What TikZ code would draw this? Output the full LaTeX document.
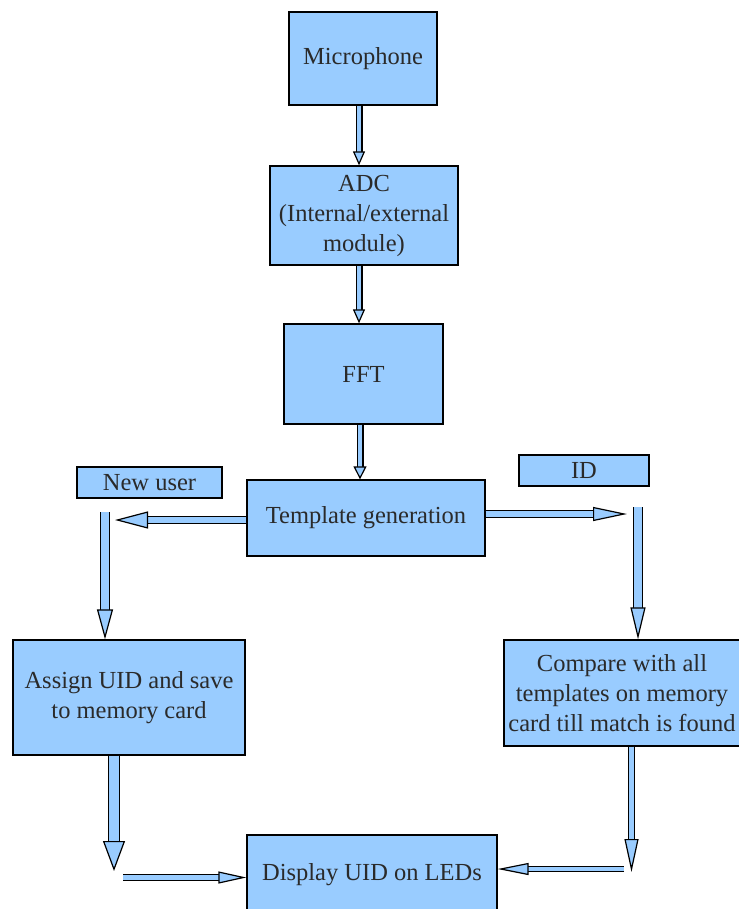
\documentclass[tikz,border=0pt]{standalone}
\usepackage{fontspec}
\setmainfont{Liberation Serif}
\usetikzlibrary{arrows.meta}
\definecolor{boxblue}{HTML}{99CCFF}
\definecolor{txt}{HTML}{2A2A2A}
\begin{document}
\begin{tikzpicture}[x=1pt,y=-1pt,
  box/.style={draw=black, line width=1.3pt, fill=boxblue, inner sep=0pt, align=center,
    font=\fontsize{24.5}{30}\selectfont, text=txt},
  barrow/.style args={#1/#2/#3}{draw=black, line width=1.2pt, double=boxblue, double distance=#1,
    -{Triangle[length=#2, width=#3, fill=boxblue, line width=1.2pt]}}]
\useasboundingbox (0,0) rectangle (738,909);
\node[box, minimum width=148pt, minimum height=93pt] (mic) at (363,58.5) {Microphone};
\node[box, minimum width=188pt, minimum height=99pt] (adc) at (364,215.5) {ADC\\(Internal/external\\module)};
\node[box, minimum width=159pt, minimum height=100pt] (fft) at (363.5,374) {FFT};
\node[box, minimum width=238pt, minimum height=76pt] (tmpl) at (366,518) {Template generation};
\node[box, minimum width=145pt, minimum height=31pt] (newu) at (149.5,482.5) {New user};
\node[box, minimum width=130pt, minimum height=31pt] (id) at (584,470.5) {ID};
\node[box, minimum width=232pt, minimum height=115pt] (assign) at (129,697.5) {Assign UID and save\\to memory card};
\node[box, minimum width=236pt, minimum height=106pt] (cmp) at (622,693) {Compare with all\\templates on memory\\card till match is found};
\node[box, minimum width=250pt, minimum height=80pt] (disp) at (372,875) {Display UID on LEDs};

\coordinate (v1) at (359,0);
\coordinate (v2) at (359,0);
\coordinate (v3) at (360,0);
\coordinate (lt) at (115,520);
\coordinate (lv) at (105,512);
\coordinate (rt) at (627,514);
\coordinate (rv) at (638,507);
\coordinate (ad) at (114,871);
\coordinate (bl) at (123,877.5);
\coordinate (cd) at (631.5,872);
\coordinate (br) at (624,869);

\draw[barrow=4.6pt/14pt/12pt] (mic.south -| v1) -- (adc.north -| v1);
\draw[barrow=4.6pt/14pt/12pt] (adc.south -| v2) -- (fft.north -| v2);
\draw[barrow=4.6pt/13pt/13pt] (fft.south -| v3) -- (tmpl.north -| v3);
\draw[barrow=6.5pt/33pt/17pt] (tmpl.west |- lt) -- (lt);
\draw[barrow=7.5pt/30pt/16pt] (lv) -- (assign.north -| lv);
\draw[barrow=5.5pt/34pt/14pt] (tmpl.east |- rt) -- (rt);
\draw[barrow=7.5pt/32pt/15pt] (rv) -- (cmp.north -| rv);
\draw[barrow=9.5pt/30pt/22pt] (assign.south -| ad) -- (ad);
\draw[barrow=4.6pt/28pt/12pt] (bl) -- (disp.west |- bl);
\draw[barrow=5.5pt/33pt/14pt] (cmp.south -| cd) -- (cd);
\draw[barrow=3.6pt/31pt/12pt] (br) -- (disp.east |- br);
\end{tikzpicture}
\end{document}
